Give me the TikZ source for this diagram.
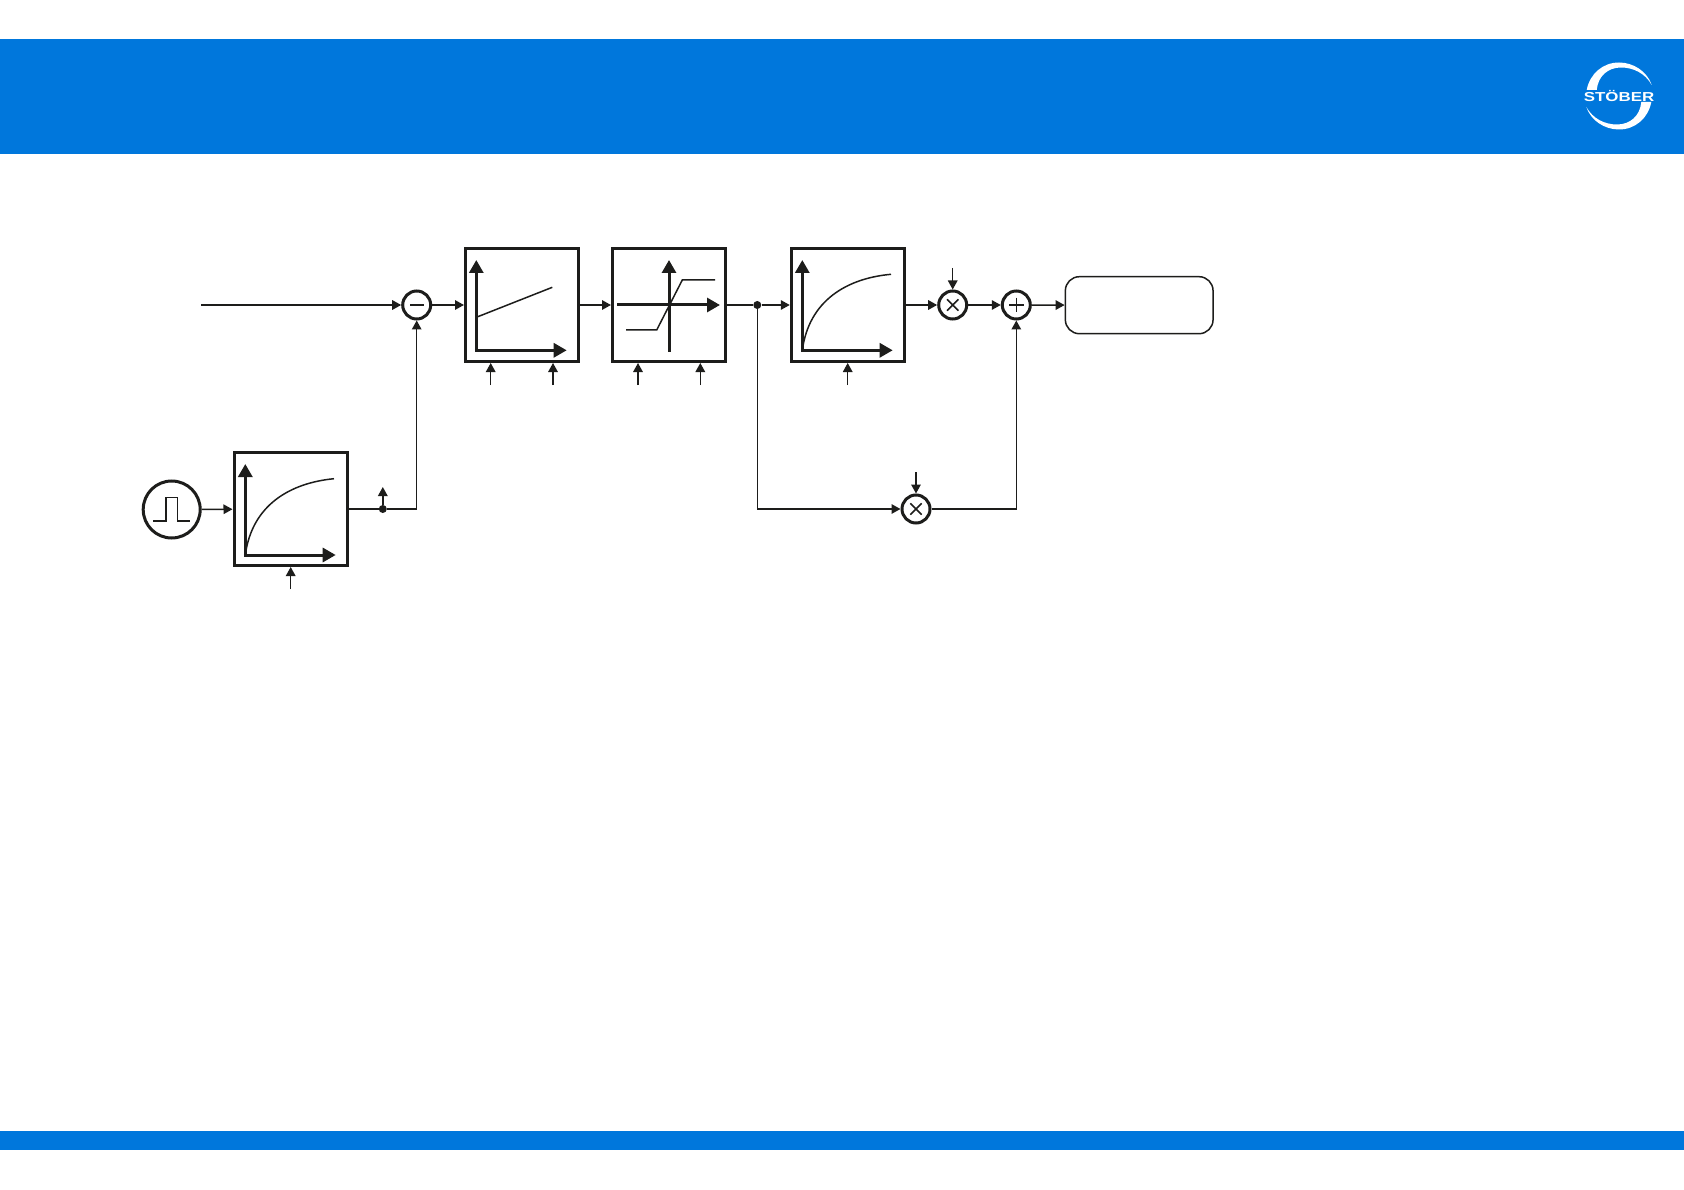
\documentclass[tikz,border=0pt]{standalone}
\usepackage{fontspec}
\setsansfont{Liberation Sans}
\usetikzlibrary{arrows.meta}

\begin{document}
\begin{tikzpicture}[x=1pt, y=-1pt, >={Triangle[length=9pt,width=9.5pt]}, font=\sffamily,
    wire/.style={draw=ink, line width=1.5pt},
    axis/.style={draw=ink, line width=3pt, -{Triangle[length=13pt,width=14pt]}},
    plot/.style={draw=ink, line width=1.5pt},
    blockbox/.style={draw=ink, line width=3pt, fill=white, minimum size=113pt, inner sep=0pt},
    mixer/.style={circle, draw=ink, line width=3pt, fill=white, minimum size=28pt, inner sep=0pt},
    jointdot/.style={circle, fill=ink, minimum size=8pt, inner sep=0pt}]
  \definecolor{ink}{HTML}{1D1D1B}
  \definecolor{band}{HTML}{0077DC}
  \useasboundingbox (0,0) rectangle (1684,1190);
  \fill[white] (0,0) rectangle (1684,1190);
  \fill[band] (0,39) rectangle (1684,154);
  \fill[band] (0,1131) rectangle (1684,1150);

  % logo
  \foreach \a in {0,180}
    \fill[white, rotate around={\a:(1619,96)}] (1586.7,90) .. controls (1589.7,74) and (1602.7,62.5) .. (1619,62.5)
      .. controls (1633.4,62.5) and (1647.1,71.4) .. (1651.7,85)
      .. controls (1645,73) and (1633,67.5) .. (1621,67.5)
      .. controls (1608,67.5) and (1598,76) .. (1596.7,90) -- cycle;
  \node[text=white, font=\sffamily\bfseries\fontsize{13}{13}\selectfont, xscale=1.3, transform shape] (logo) at (1619,96.5) {STÖBER};

  % blocks
  \node[blockbox] (filterin) at (290.5,509) {};
  \node[blockbox] (gain) at (522,305) {};
  \node[blockbox] (limit) at (669,305) {};
  \node[blockbox] (filterout) at (847.8,305) {};
  \node[circle, draw=ink, line width=3pt, fill=white, minimum size=57pt, inner sep=0pt] (pulse) at (171.7,509.5) {};
  \node[mixer] (minus) at (416.7,305) {};
  \node[mixer] (multtop) at (952.7,305) {};
  \node[mixer] (plus) at (1016.3,305) {};
  \node[mixer] (multlow) at (916,509) {};
  \node[draw=ink, line width=1.5pt, rounded corners=14pt, minimum width=147.7pt, minimum height=57pt, inner sep=0pt] (output) at (1139.2,305.2) {};
  \node[jointdot] (tapfb) at (382.8,509) {};
  \node[jointdot] (tapff) at (757.3,305) {};

  % symbols inside the mixers and the pulse
  \draw[plot] (410,305) -- (424,305);
  \draw[plot] (947,299.3) -- (958.4,310.7) (947,310.7) -- (958.4,299.3);
  \draw[plot] (1009,305) -- (1023.6,305) (1016.3,297.7) -- (1016.3,312.3);
  \draw[plot] (910.3,503.3) -- (921.7,514.7) (910.3,514.7) -- (921.7,503.3);
  \draw[plot] (153.3,521) -- (166,521) -- (166,497.5) -- (177.5,497.5) -- (177.5,521) -- (190,521);

  % plots
  \draw[axis] (245.3,555) -- (245.3,464);
  \draw[axis] (243.8,555) -- (335.7,555);
  \draw[plot] (245.3,555) .. controls (252,505) and (290,483) .. (334,478.7);
  \draw[axis] (476.3,350.3) -- (476.3,260);
  \draw[axis] (474.8,350.3) -- (566.7,350.3);
  \draw[plot] (476.3,317.3) -- (552.3,287.3);
  \draw[axis] (669,351.7) -- (669,260);
  \draw[axis] (617,305) -- (720,305);
  \draw[plot] (626,330) -- (656.7,330) -- (682.3,280) -- (715,280);
  \draw[axis] (802.3,350.3) -- (802.3,260);
  \draw[axis] (800.8,350.3) -- (892.7,350.3);
  \draw[plot] (802.3,350.3) .. controls (809,300.3) and (847,278.3) .. (891,274.3);

  % free ends
  \coordinate (setpoint) at (201,305);
  \coordinate (filtertime) at (290.7,589);
  \coordinate (tapout) at (382.8,487);
  \coordinate (gainp) at (490.7,385);
  \coordinate (gaini) at (553,385);
  \coordinate (limitlow) at (638,385);
  \coordinate (limithigh) at (700.3,385);
  \coordinate (filtertwo) at (847.7,385);
  \coordinate (factortop) at (952.7,268);
  \coordinate (factorlow) at (916,472);

  % connectors
  \draw[wire, ->] (pulse) -- (filterin);
  \draw[wire] (filterin) -- (tapfb);
  \draw[wire, ->] (tapfb) -- (tapout);
  \draw[wire, ->] (tapfb) -| (minus);
  \draw[wire, ->] (setpoint) -- (minus);
  \draw[wire, ->] (minus) -- (gain);
  \draw[wire, ->] (gain) -- (limit);
  \draw[wire] (limit) -- (tapff);
  \draw[wire, ->] (tapff) -- (filterout);
  \draw[wire, ->] (filterout) -- (multtop);
  \draw[wire, ->] (multtop) -- (plus);
  \draw[wire, ->] (plus) -- (output);
  \draw[wire, ->] (tapff) |- (multlow);
  \draw[wire, ->] (multlow) -| (plus);
  \draw[wire, ->] (filtertime) -- (filtertime |- filterin.south);
  \draw[wire, ->] (gainp) -- (gainp |- gain.south);
  \draw[wire, ->] (gaini) -- (gaini |- gain.south);
  \draw[wire, ->] (limitlow) -- (limitlow |- limit.south);
  \draw[wire, ->] (limithigh) -- (limithigh |- limit.south);
  \draw[wire, ->] (filtertwo) -- (filtertwo |- filterout.south);
  \draw[wire, ->] (factortop) -- (multtop);
  \draw[wire, ->] (factorlow) -- (multlow);
\end{tikzpicture}
\end{document}
